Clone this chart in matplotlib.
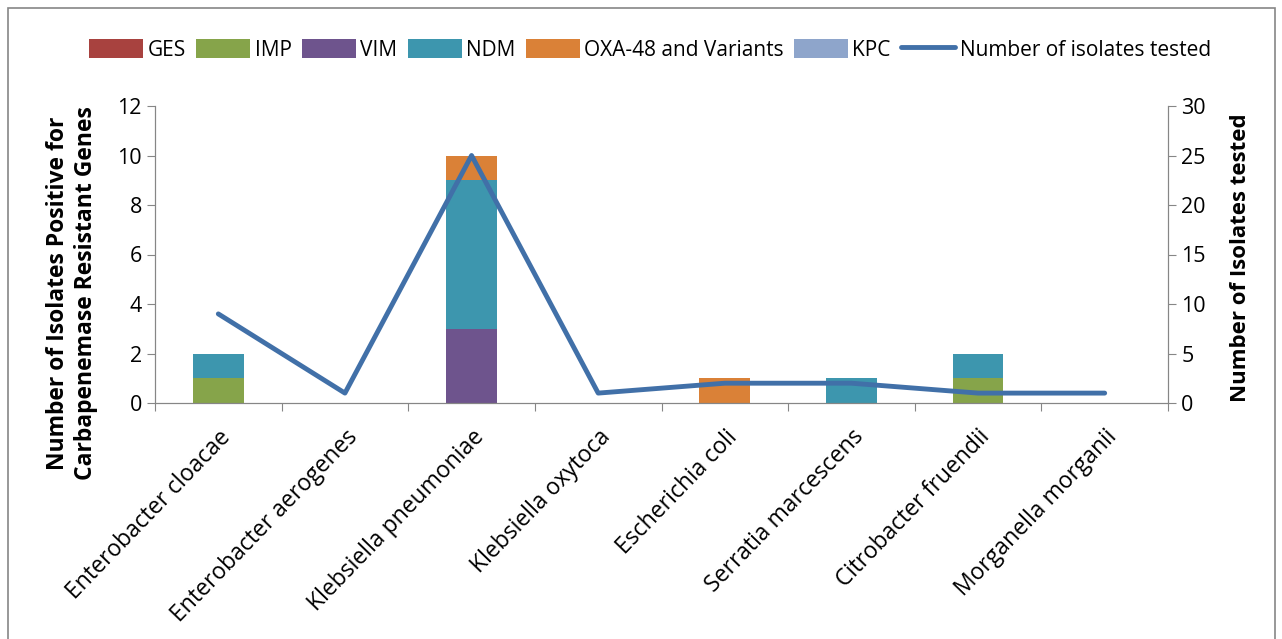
import matplotlib
matplotlib.use("Agg")
import matplotlib.pyplot as plt
import numpy as np
from matplotlib.patches import Rectangle

plt.rcParams['font.family'] = ['Open Sans', 'DejaVu Sans']

categories = ["Enterobacter cloacae", "Enterobacter aerogenes", "Klebsiella pneumoniae",
              "Klebsiella oxytoca", "Escherichia coli", "Serratia marcescens",
              "Citrobacter fruendii", "Morganella morganii"]
GES = [0, 0, 0, 0, 0, 0, 0, 0]
IMP = [1, 0, 0, 0, 0, 0, 1, 0]
VIM = [0, 0, 3, 0, 0, 0, 0, 0]
NDM = [1, 0, 6, 0, 0, 1, 1, 0]
OXA = [0, 0, 1, 0, 1, 0, 0, 0]
KPC = [0, 0, 0, 0, 0, 0, 0, 0]
tested = [9, 1, 25, 1, 2, 2, 1, 1]

series = [("GES", GES, "#A8423F"), ("IMP", IMP, "#86A44A"), ("VIM", VIM, "#6E548D"),
          ("NDM", NDM, "#3D96AE"), ("OXA-48 and Variants", OXA, "#DA8137"),
          ("KPC", KPC, "#8EA5CB")]
line_color = "#4170A8"
gray = "#868686"

fig = plt.figure(figsize=(12.82, 6.39), dpi=100)
ax = fig.add_axes([155/1282, 1-403/639, (1168-155)/1282, (403-106)/639])
x = np.arange(len(categories))
bottom = np.zeros(len(categories))
handles = []
for name, vals, col in series:
    b = ax.bar(x, vals, 0.4, bottom=bottom, color=col, label=name, zorder=2)
    bottom += np.array(vals)
    handles.append(b)

ax.set_xlim(-0.5, len(categories) - 0.5)
ax.set_ylim(0, 12)
ax.set_yticks(range(0, 13, 2))
ax.set_xticks(np.arange(-0.5, len(categories), 1.0))
ax.set_xticklabels([])
ax.set_xticks(x, minor=True)
ax.set_xticklabels(categories, minor=True, rotation=46, ha='right', va='top',
                   fontsize=16.5, rotation_mode='anchor')
ax.tick_params(axis='x', which='minor', length=0, pad=16)
ax.tick_params(axis='x', which='major', length=6, color=gray, direction='out')
ax.tick_params(axis='y', length=6, color=gray, labelsize=15.5, direction='out')
ax.spines['top'].set_visible(False)
for s in ['left', 'bottom', 'right']:
    ax.spines[s].set_color(gray)
ax.set_ylabel("Number of Isolates Positive for\nCarbapenemase Resistant Genes",
              fontsize=16.5, fontweight='bold', linespacing=1.25)
ax.yaxis.set_label_coords(-0.056, 0.37)

ax2 = ax.twinx()
ln, = ax2.plot(x, tested, color=line_color, lw=3.5, zorder=3, solid_capstyle='round',
               label="Number of isolates tested")
ax2.set_ylim(0, 30)
ax2.set_yticks(range(0, 31, 5))
ax2.tick_params(axis='y', length=6, color=gray, labelsize=15.5, direction='out')
ax2.spines['top'].set_visible(False)
for s in ['left', 'bottom', 'right']:
    ax2.spines[s].set_color(gray)
ax2.set_ylabel("Number of Isolates tested", fontsize=16, fontweight='bold')
ax2.yaxis.set_label_coords(1.061, 0.49)

fig.legend(handles + [ln], [s[0] for s in series] + ["Number of isolates tested"],
           loc='center', bbox_to_anchor=(650/1282, 1-50/639), ncol=7, frameon=False,
           fontsize=15, handlelength=2.6, handleheight=1.0, columnspacing=0.5,
           handletextpad=0.2)

fig.patches.append(Rectangle((8/1282, -0.05), (1275-8)/1282, 1-8/639+0.05,
                             transform=fig.transFigure, fill=False, edgecolor=gray, lw=1.2))

fig.savefig("out.png", dpi=100)
